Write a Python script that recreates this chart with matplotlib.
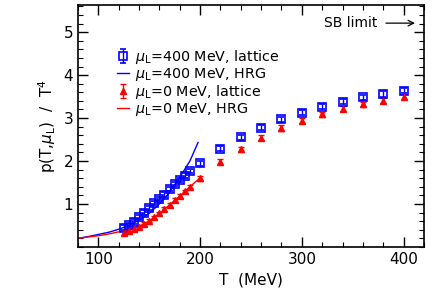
import matplotlib
matplotlib.use('Agg')
import matplotlib.pyplot as plt
from matplotlib.ticker import MultipleLocator

# lattice data, mu_L = 400 MeV
T_lat = [125, 130, 135, 140, 145, 150, 155, 160, 165, 170, 175, 180, 185, 190,
         200, 220, 240, 260, 280, 300, 320, 340, 360, 380, 400]
p_400 = [0.45, 0.51, 0.59, 0.70, 0.80, 0.90, 1.02, 1.12, 1.22, 1.34, 1.46, 1.56, 1.66, 1.77,
         1.95, 2.29, 2.55, 2.78, 2.97, 3.12, 3.26, 3.38, 3.48, 3.56, 3.64]
e_400 = [0.05] * 14 + [0.06] * 11
# lattice data, mu_L = 0
p_0 = [0.32, 0.37, 0.42, 0.47, 0.53, 0.61, 0.69, 0.78, 0.88, 0.98, 1.09, 1.19, 1.29, 1.40,
       1.60, 1.98, 2.27, 2.54, 2.77, 2.94, 3.09, 3.22, 3.32, 3.40, 3.50]
e_0 = [0.04] * 14 + [0.06] * 11

# HRG curves
T_hrg_400 = [80, 90, 100, 110, 120, 130, 140, 150, 160, 170, 180, 190, 198]
hrg_400 = [0.20, 0.24, 0.29, 0.34, 0.41, 0.50, 0.62, 0.78, 1.00, 1.27, 1.62, 2.00, 2.43]
T_hrg_0 = [80, 90, 100, 110, 120, 130, 140, 150, 160, 170, 180, 190, 201]
hrg_0 = [0.20, 0.23, 0.26, 0.30, 0.35, 0.40, 0.48, 0.60, 0.77, 0.98, 1.18, 1.40, 1.63]

SB = 5.21

fig = plt.figure(figsize=(4.37, 3.0), dpi=100)
ax = fig.add_axes([0.1785, 0.177, 0.7915, 0.806])

blue = '#0000ff'
red = '#ff0000'

h1 = ax.errorbar(T_lat, p_400, yerr=e_400, fmt='s', ms=5.5, mfc='none', mec=blue, mew=1.2,
                 ecolor=blue, elinewidth=1, capsize=2.5, capthick=1,
                 label=r'$\mu_{\rm L}$=400 MeV, lattice', zorder=3)
h2, = ax.plot(T_hrg_400, hrg_400, color=blue, lw=1, label=r'$\mu_{\rm L}$=400 MeV, HRG')
h3 = ax.errorbar(T_lat, p_0, yerr=e_0, fmt='^', ms=5, mfc=red, mec=red,
                 ecolor=red, elinewidth=1, capsize=2.5, capthick=1,
                 label=r'$\mu_{\rm L}$=0 MeV, lattice', zorder=3)
h4, = ax.plot(T_hrg_0, hrg_0, color=red, lw=1, label=r'$\mu_{\rm L}$=0 MeV, HRG')

ax.annotate('', xy=(414, SB), xytext=(380, SB),
            arrowprops=dict(arrowstyle='->', color='black', lw=0.9))
ax.text(348, SB, 'SB limit', ha='center', va='center', fontsize=10)

ax.set_xlim(80, 420)
ax.set_ylim(0, 5.63)
ax.xaxis.set_major_locator(MultipleLocator(100))
ax.xaxis.set_minor_locator(MultipleLocator(20))
ax.yaxis.set_minor_locator(MultipleLocator(0.2))
ax.set_yticks([1, 2, 3, 4, 5])
ax.tick_params(which='both', direction='in', top=True, right=True, labelsize=11)
ax.tick_params(which='major', length=7, width=1)
ax.tick_params(which='minor', length=3.5, width=0.8)
for s in ax.spines.values():
    s.set_linewidth(1.2)

ax.set_xlabel('T  (MeV)', fontsize=11)
ax.set_ylabel(r'p(T,$\mu_{\rm L}$)  /  T$^4$', fontsize=11)

ax.legend(handles=[h1, h2, h3, h4], loc='upper left', bbox_to_anchor=(0.095, 0.845),
          frameon=False, fontsize=10.3, handlelength=0.9, handletextpad=0.4,
          labelspacing=0.0, borderaxespad=0)

fig.savefig('out.png', dpi=100)
